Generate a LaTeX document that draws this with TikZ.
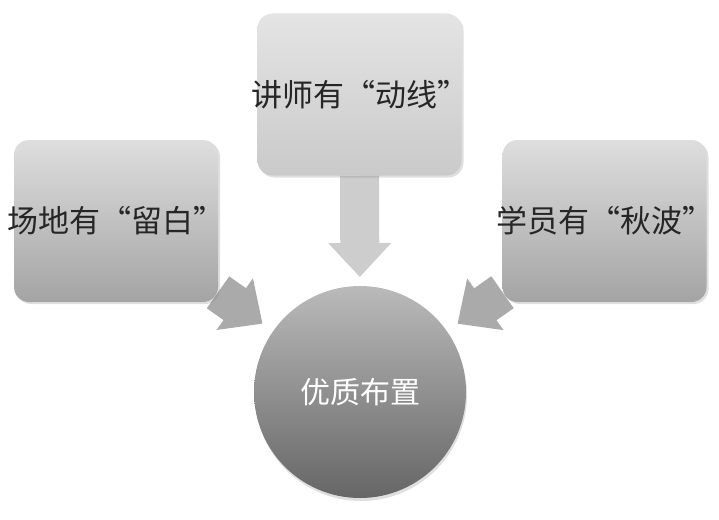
\documentclass[tikz,border=0pt]{standalone}
\usepackage{fontspec}
\newfontfamily\cjk{Noto Sans CJK SC}
\usetikzlibrary{arrows.meta,shadows}
\pgfdeclarelayer{back}
\pgfsetlayers{back,main}
\definecolor{cardtop}{HTML}{DEDEDE}
\definecolor{cardbot}{HTML}{A4A4A4}
\definecolor{headtop}{HTML}{E4E4E4}
\definecolor{headbot}{HTML}{CACACA}
\definecolor{hubtop}{HTML}{BABABA}
\definecolor{hubbot}{HTML}{666666}
\definecolor{flowlight}{HTML}{CDCDCD}
\definecolor{flowdark}{HTML}{AAAAAA}
\begin{document}
\begin{tikzpicture}[
        x=1pt, y=-1pt,
        card/.style={rectangle, rounded corners=15pt, minimum width=204pt, minimum height=162pt,
            inner xsep=-15pt, inner ysep=0pt, outer sep=0pt, top color=cardtop, bottom color=cardbot,
            drop shadow={opacity=0.25, shadow xshift=2pt, shadow yshift=-2pt},
            font=\cjk\fontsize{31}{37}\selectfont, text=black!85},
        hub/.style={circle, minimum size=212pt, inner sep=0pt, outer sep=0pt,
            top color=hubtop, bottom color=hubbot,
            drop shadow={opacity=0.25, shadow xshift=1pt, shadow yshift=-3pt},
            font=\cjk\fontsize{30}{36}\selectfont, text=white},
        flow/.style={line width=39pt, draw=flowdark, -{Triangle[length=34pt, width=61pt]}}
    ]
        \useasboundingbox (0,0) rectangle (719,519);

        \node[card, top color=headtop, bottom color=headbot] (speaker) at (359.5,94.5) {讲师有“动线”};
        \node[card] (venue) at (116,221) {场地有“留白”};
        \node[card] (learner) at (604.5,221) {学员有“秋波”};
        \node[hub] (core) at (360,392) {优质布置};

        \begin{pgfonlayer}{back}
            \draw[flow, draw=flowlight, shorten >=9pt] (speaker) -- (core);
            \draw[flow, shorten >=13pt] (venue) -- (core);
            \draw[flow, shorten >=13pt] (learner) -- (core);
        \end{pgfonlayer}
    \end{tikzpicture}
\end{document}
